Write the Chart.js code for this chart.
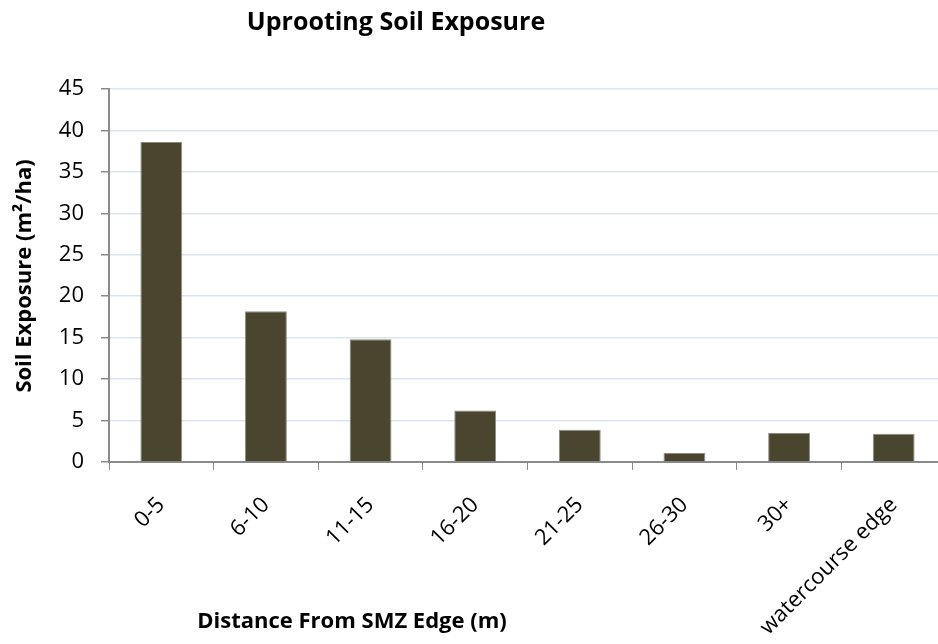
<!DOCTYPE html>
<html>
<head>
<meta charset="utf-8">
<script src="https://cdn.jsdelivr.net/npm/chart.js@4/dist/chart.umd.min.js"></script>
<style>
  html, body { margin: 0; padding: 0; background: #fff; overflow: hidden; }
  #wrap { width: 946px; height: 644px; }
</style>
</head>
<body>
<div id="wrap"><canvas id="myChart"></canvas></div>
<script>
// chart data
var categories = ['0-5', '6-10', '11-15', '16-20', '21-25', '26-30', '30+', 'watercourse edge'];
var soilExposure = [38.6, 18.2, 14.8, 6.2, 3.9, 1.1, 3.5, 3.4];
var yTicks = [0, 5, 10, 15, 20, 25, 30, 35, 40, 45];

var chartTitle = 'Uprooting Soil Exposure';
var xTitle = 'Distance From SMZ Edge (m)';
var yTitle = 'Soil Exposure (m\u00B2/ha)';

var FONT = "'Open Sans', sans-serif";

// titles sit where the original spreadsheet put them, not centred on the plot
var titlesPlugin = {
  id: 'titles',
  afterDraw: function (chart) {
    var ctx = chart.ctx;
    ctx.save();
    ctx.fillStyle = '#000';
    ctx.textAlign = 'center';
    ctx.textBaseline = 'alphabetic';
    ctx.font = 'bold 25px ' + FONT;
    ctx.fillText(chartTitle, 396, 30);
    ctx.font = 'bold 22px ' + FONT;
    ctx.fillText(xTitle, 352, 628);
    ctx.translate(31, 276);
    ctx.rotate(-Math.PI / 2);
    ctx.fillText(yTitle, 0, 0);
    ctx.restore();
  }
};

var myChart = new Chart(document.getElementById('myChart').getContext('2d'), {
  type: 'bar',
  data: {
    labels: categories,
    datasets: [{
      label: 'Soil Exposure',
      data: soilExposure,
      backgroundColor: '#4a452e',
      borderColor: '#8f8c80',
      borderWidth: 1,
      categoryPercentage: 1,
      barPercentage: 0.4
    }]
  },
  options: {
    responsive: true,
    maintainAspectRatio: false,
    animation: false,
    layout: { padding: { top: 89, left: 0, right: 0, bottom: 0 } },
    plugins: {
      legend: { display: false },
      tooltip: { enabled: false },
      title: { display: false }
    },
    scales: {
      x: {
        grid: {
          drawOnChartArea: false,
          drawTicks: true,
          tickLength: 8,
          tickColor: '#8a8a8a',
          offset: true
        },
        border: { color: '#8a8a8a', width: 2 },
        ticks: {
          color: '#000',
          font: { family: FONT, size: 22 },
          minRotation: 45,
          maxRotation: 45,
          padding: 22,
          autoSkip: false
        },
        afterFit: function (s) { s.height = 182; }
      },
      y: {
        min: 0,
        max: 45,
        afterBuildTicks: function (s) { s.ticks = yTicks.map(function (v) { return { value: v }; }); },
        grid: {
          color: '#dbe4f1',
          lineWidth: 1.5,
          tickLength: 8,
          tickColor: '#8a8a8a'
        },
        border: { color: '#8a8a8a', width: 2 },
        ticks: {
          color: '#000',
          font: { family: FONT, size: 22 },
          padding: 17
        },
        afterFit: function (s) { s.width = 109; }
      }
    }
  },
  plugins: [titlesPlugin]
});
</script>
</body>
</html>
